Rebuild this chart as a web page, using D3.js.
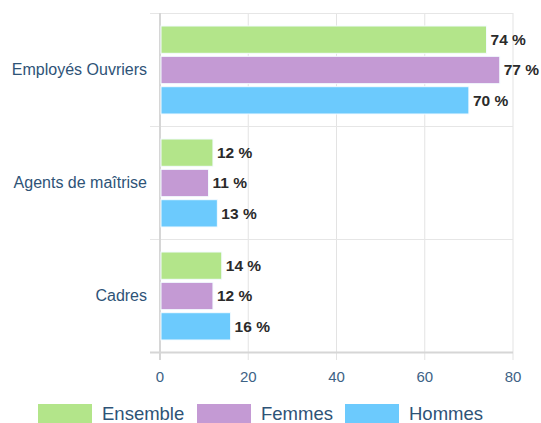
<!DOCTYPE html>
<html>
<head>
<meta charset="utf-8">
<script src="https://cdn.jsdelivr.net/npm/d3@7"></script>
<style>
  html, body { margin: 0; padding: 0; background: #fff; }
  svg { display: block; font-family: "Liberation Sans", Arial, sans-serif; }
</style>
</head>
<body>
<svg id="chart" width="541" height="423"></svg>
<script>
// Categories, series and values
const categories = ["Employés Ouvriers", "Agents de maîtrise", "Cadres"];
const seriesNames = ["Ensemble", "Femmes", "Hommes"];
const ensemble = [74, 12, 14];
const femmes = [77, 11, 12];
const hommes = [70, 13, 16];
const xTicks = [0, 20, 40, 60, 80];
const colors = ["#b3e58a", "#c49ad4", "#6ccafd"];

const values = [ensemble, femmes, hommes];
const svg = d3.select("#chart");
const margin = { left: 160, right: 28, top: 13, bottom: 71 };
const W = 541, H = 423;
const innerW = W - margin.left - margin.right;
const innerH = H - margin.top - margin.bottom;

const x = d3.scaleLinear().domain([0, 80]).range([margin.left, margin.left + innerW]);
const y = d3.scaleBand().domain(categories).range([margin.top, margin.top + innerH]);
const ySub = d3.scaleBand().domain(seriesNames).range([13, y.bandwidth() - 12]).paddingInner(0.1);

// vertical grid lines
svg.append("g").selectAll("line").data(xTicks.slice(1)).join("line")
  .attr("x1", d => x(d)).attr("x2", d => x(d))
  .attr("y1", margin.top).attr("y2", margin.top + innerH + 8)
  .attr("stroke", "#e3e3e3").attr("stroke-width", 1);

// horizontal category separators
const seps = categories.map(c => y(c)).concat([margin.top + innerH]);
svg.append("g").selectAll("line").data(seps).join("line")
  .attr("x1", margin.left - 10).attr("x2", x(80))
  .attr("y1", d => Math.round(d) + 0.5).attr("y2", d => Math.round(d) + 0.5)
  .attr("stroke", (d, i) => i === seps.length - 1 ? "#d6d6d6" : "#e6e6e6")
  .attr("stroke-width", (d, i) => i === seps.length - 1 ? 2 : 1);

// left axis line
svg.append("line")
  .attr("x1", margin.left).attr("x2", margin.left)
  .attr("y1", margin.top).attr("y2", margin.top + innerH + 8)
  .attr("stroke", "#d6d6d6").attr("stroke-width", 2);

// bars
const groups = svg.append("g").selectAll("g").data(categories).join("g")
  .attr("transform", c => `translate(0,${y(c)})`);

groups.each(function(c, ci) {
  const g = d3.select(this);
  seriesNames.forEach((s, si) => {
    const v = values[si][ci];
    g.append("rect")
      .attr("x", x(0) + 1)
      .attr("y", ySub(s))
      .attr("width", x(v) - x(0) - 1)
      .attr("height", ySub.bandwidth())
      .attr("fill", colors[si])
      .attr("stroke", "#f4fbff").attr("stroke-width", 1);
    g.append("text")
      .attr("x", x(v) + 4)
      .attr("y", ySub(s) + ySub.bandwidth() / 2)
      .attr("dy", "0.35em")
      .attr("font-size", 15.5).attr("font-weight", "bold")
      .attr("fill", "#2b2b2b")
      .text(v + " %");
  });
});

// category labels
svg.append("g").selectAll("text").data(categories).join("text")
  .attr("x", 147)
  .attr("y", c => y(c) + y.bandwidth() / 2)
  .attr("dy", "0.35em")
  .attr("text-anchor", "end")
  .attr("font-size", 16)
  .attr("fill", "#2e5377")
  .text(c => c);

// x tick labels
svg.append("g").selectAll("text").data(xTicks).join("text")
  .attr("x", d => x(d))
  .attr("y", 382)
  .attr("text-anchor", "middle")
  .attr("font-size", 15)
  .attr("fill", "#3d6285")
  .text(d => d);

// legend
const legendX = [38, 197, 345];
const leg = svg.append("g").selectAll("g").data(seriesNames).join("g")
  .attr("transform", (d, i) => `translate(${legendX[i]},404)`);
leg.append("rect").attr("width", 54).attr("height", 19)
  .attr("fill", (d, i) => colors[i]);
leg.append("text").attr("x", 64).attr("y", 16)
  .attr("font-size", 18.5).attr("fill", "#2e5377")
  .text(d => d);
</script>
</body>
</html>
